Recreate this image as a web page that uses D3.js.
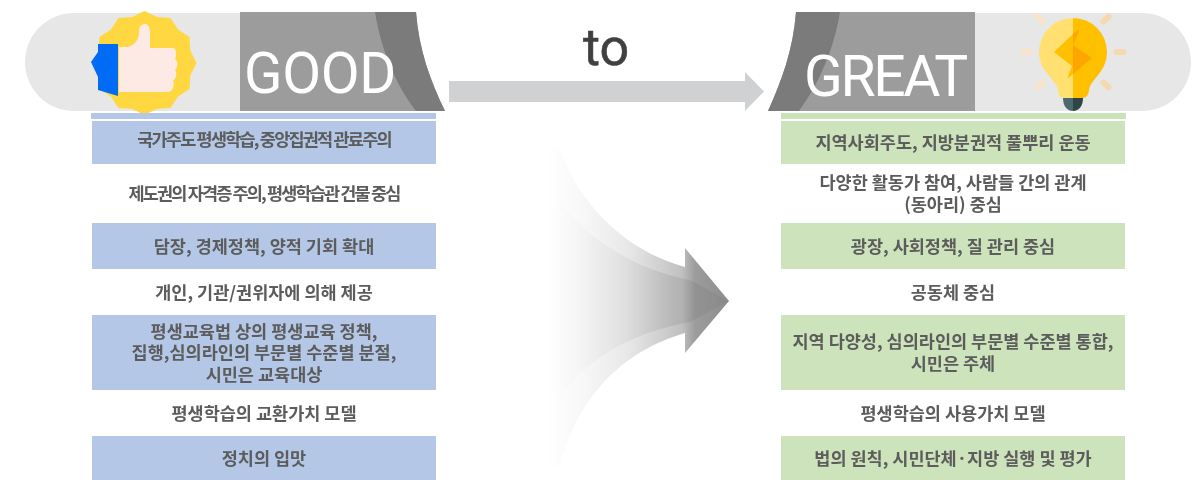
<!DOCTYPE html>
<html><head><meta charset="utf-8">
<script src="https://cdn.jsdelivr.net/npm/d3@7"></script>
<style>html,body{margin:0;padding:0;background:#fff}svg{display:block}</style></head>
<body><svg id="c" width="1204" height="480"></svg>
<script>
const titleLeft = "GOOD", titleRight = "GREAT", connector = "to";
const rowNames = ["r1","r2","r3","r4","r5","r6","r7"];
const rowTops =    [121,164,223,269,315,390,436];
const rowBottoms = [164,223,269,315,390,436,480];
const rowShaded =  [true,false,true,false,true,false,true];
const leftTexts = [
 ["국가주도 평생학습, 중앙집권적 관료주의"],
 ["제도권의 자격증 주의, 평생학습관 건물 중심"],
 ["담장, 경제정책, 양적 기회 확대"],
 ["개인, 기관/권위자에 의해 제공"],
 ["평생교육법 상의 평생교육 정책,","집행,심의라인의 부문별 수준별 분절,","시민은 교육대상"],
 ["평생학습의 교환가치 모델"],
 ["정치의 입맛"]];
const rightTexts = [
 ["지역사회주도, 지방분권적 풀뿌리 운동"],
 ["다양한 활동가 참여, 사람들 간의 관계","(동아리) 중심"],
 ["광장, 사회정책, 질 관리 중심"],
 ["공동체 중심"],
 ["지역 다양성, 심의라인의 부문별 수준별 통합,","시민은 주체"],
 ["평생학습의 사용가치 모델"],
 ["법의 원칙, 시민단체·지방 실행 및 평가"]];
const leftSpacing = [-1.8,-1.85,0,0,0,0,0];
const leftNudge = [-3,0,0,0,0,0,0];

const svg = d3.select("#c");
const defs = svg.append("defs");
defs.append("filter").attr("id","soft").append("feGaussianBlur").attr("stdDeviation",0.55);
defs.append("filter").attr("id","soft2").append("feGaussianBlur").attr("stdDeviation",0.35);
defs.append("filter").attr("id","soft3").append("feGaussianBlur").attr("stdDeviation",0.7);
const g1 = defs.append("linearGradient").attr("id","fade").attr("gradientUnits","userSpaceOnUse")
  .attr("x1",545).attr("x2",728).attr("y1",0).attr("y2",0);
[[0,"#ffffff"],[0.2,"#f8f8f8"],[0.45,"#e8e8e8"],[0.75,"#c0c0c0"],[0.82,"#9c9c9c"],[1,"#8e8e8e"]].forEach(s=>g1.append("stop").attr("offset",s[0]).attr("stop-color",s[1]));
const g2 = defs.append("linearGradient").attr("id","fade2").attr("gradientUnits","userSpaceOnUse")
  .attr("x1",555).attr("x2",728).attr("y1",0).attr("y2",0);
[[0,0],[0.3,0.03],[0.7,0.08],[1,0.03]].forEach(s=>g2.append("stop").attr("offset",s[0]).attr("stop-color","#000").attr("stop-opacity",s[1]));

const y = d3.scaleLinear().domain([0,480]).range([0,480]);
const xL = d3.scaleBand().domain(["l"]).range([92,436]);
const xR = d3.scaleBand().domain(["r"]).range([781,1125]);

// header pills
svg.append("path").attr("d","M300,13H74A49,49 0 0 0 74,111H300Z").attr("fill","#e7e7e7");
svg.append("path").attr("d","M1126,13H975V111H1142A49,49 0 0 0 1142,13Z").attr("fill","#e7e7e7");
// panels
svg.append("path").attr("d","M240,12H416C419,50 430,80 445,111H240Z").attr("fill","#9c9c9c");
svg.append("path").attr("d","M375,12H416C419,50 430,80 445,111H416C396,85 381,50 375,12Z").attr("fill","#7b7b7b");
svg.append("path").attr("d","M975,12H796C793,50 782,80 768,111H975Z").attr("fill","#9c9c9c");
svg.append("path").attr("d","M840,12H796C793,50 782,80 768,111H799C818,85 834,50 840,12Z").attr("fill","#7b7b7b");

svg.append("text").text(titleLeft).attr("x",244).attr("y",93).attr("font-family","Roboto").attr("font-size",56.5).attr("letter-spacing",-0.3).attr("fill","#fff").attr("filter","url(#soft2)");
svg.append("text").text(titleRight).attr("x",804).attr("y",96).attr("font-family","Roboto").attr("font-size",57).attr("letter-spacing",-2.4).attr("fill","#fff").attr("filter","url(#soft2)");

// thumb badge
const badgePts = d3.range(24).map(i=>{const a=i/24*2*Math.PI-Math.PI/2, r=i%2?47.5:52;return [144.5+r*Math.cos(a),63+r*Math.sin(a)];});
svg.append("path").attr("d",d3.line()(badgePts)+"Z").attr("fill","#ffd740").attr("filter","url(#soft2)");
svg.append("path").attr("d","M119,47H125C134,47 139,40 139,32C139,26 142,24 145,24C148,24 150,27 150,32V48H172C175,48 176,50 176,53C176,56 176,58 175,59C178,60 178,68 175,70C177,72 177,78 173,81C175,84 173,92 168,92H119Z").attr("fill","#fdeae4");
svg.append("path").attr("d","M98,44H118V96L98,90V77L91,62L98,52Z").attr("fill","#006cf5");

// bulb
const rays=[[1026,52,0],[1120,52,0],[1040,19,45],[1106,19,-45],[1040,85,-45],[1106,85,45]];
rays.forEach(r=>{
  svg.append("rect").attr("x",r[0]-6.5).attr("y",r[1]-3).attr("width",13).attr("height",6).attr("rx",3)
   .attr("fill",r[0]<1073?"#f8e4cc":"#f6d9ae").attr("transform",`rotate(${r[2]} ${r[0]} ${r[1]})`);});
svg.append("path").attr("d","M1073,99C1060,99 1059,97 1058,90C1057,80 1039,72 1039,52A34,34 0 0 1 1073,18Z").attr("fill","#ffe070");
svg.append("path").attr("d","M1073,99C1086,99 1088,97 1089,90C1090,80 1107,72 1107,52A34,34 0 0 0 1073,18Z").attr("fill","#ffc000");
svg.append("path").attr("d","M1063,98H1073V111C1067,111 1063,106 1063,98Z").attr("fill","#4a6a6e");
svg.append("path").attr("d","M1083,98H1073V111C1079,111 1083,106 1083,98Z").attr("fill","#2f4547");
svg.append("path").attr("d","M1073,34L1054,52L1072,66L1067,79L1073,74Z").attr("fill","#ffc000");
svg.append("path").attr("d","M1073,34L1078,30C1080,29 1079,33 1073,45L1092,58L1073,74Z").attr("fill","#ffa500");

// connector
svg.append("text").text(connector).attr("x",606).attr("y",65).attr("text-anchor","middle").attr("font-family","Roboto").attr("font-size",52).attr("font-weight",400).attr("stroke","#404040").attr("stroke-width",0.5).attr("fill","#404040").attr("filter","url(#soft2)");
svg.append("path").attr("d","M449,81H745V72L764,91.5L745,111V102H449Z").attr("fill","#d0d1d3");

// big arrow
svg.append("path").attr("d","M548,147H560C572,190 615,248 685,267V248L729,301L685,353V333C610,355 575,410 560,465H548Z").attr("fill","url(#fade)").attr("filter","url(#soft3)");
svg.append("path").attr("d","M550,190C590,245 640,270 690,280L729,301L690,322C640,332 590,350 550,410Z").attr("fill","url(#fade2)").attr("filter","url(#soft3)");

// rows
svg.append("rect").attr("x",91).attr("y",113).attr("width",345).attr("height",6).attr("fill","#b4c7e7");
svg.append("rect").attr("x",781).attr("y",113).attr("width",345).attr("height",6).attr("fill","#c9e2b8");
function column(texts, band, key, fill, spacing, nudge){
  const g = svg.append("g");
  g.selectAll("rect").data(rowNames.map((n,i)=>i).filter(i=>rowShaded[i])).join("rect")
    .attr("x",band(key)).attr("width",band.bandwidth())
    .attr("y",i=>y(rowTops[i])).attr("height",i=>y(rowBottoms[i])-y(rowTops[i])).attr("fill",fill);
  const lh=21.5;
  g.selectAll("text").data(texts.map((t,i)=>({t,i}))).join("text")
    .attr("text-anchor","middle").attr("font-family","'Noto Sans CJK KR'").attr("font-weight",700)
    .attr("font-size",17.5).attr("fill","#5c5c5c").attr("filter","url(#soft)")
    .attr("letter-spacing",d=>spacing?spacing[d.i]:0)
    .each(function(d){
      const mid=(rowTops[d.i]+rowBottoms[d.i])/2+(nudge?nudge[d.i]:0);
      const start=mid-(d.t.length-1)*lh/2+6.5;
      d3.select(this).selectAll("tspan").data(d.t).join("tspan")
        .attr("x",band(key)+band.bandwidth()/2).attr("y",(s,k)=>y(start+k*lh)).text(s=>s);
    });
}
column(leftTexts,xL,"l","#b4c7e7",leftSpacing,leftNudge);
column(rightTexts,xR,"r","#cde3bb",null,null);
</script></body></html>
